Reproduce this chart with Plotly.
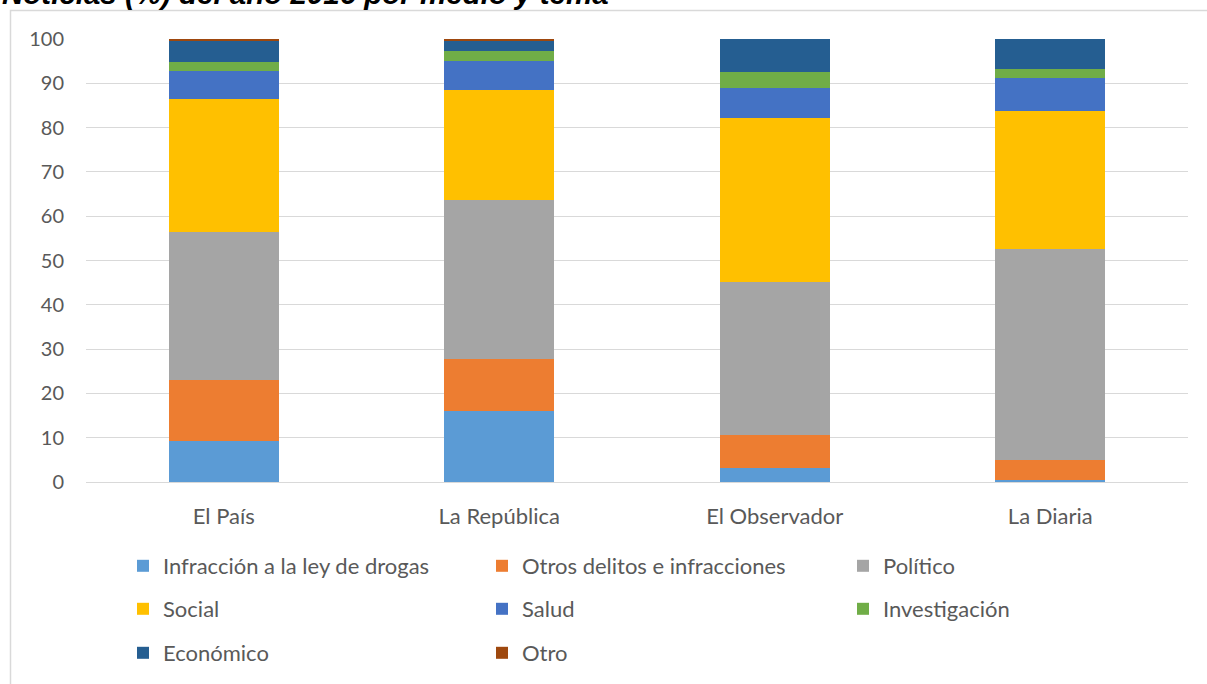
import plotly.graph_objects as go

medios = ["El País", "La República", "El Observador", "La Diaria"]

infraccion = [9.3, 16.0, 3.2, 0.4]
otros_delitos = [13.7, 11.8, 7.3, 4.6]
politico = [33.4, 35.9, 34.6, 47.6]
social = [30.1, 24.9, 37.1, 31.1]
salud = [6.3, 6.4, 6.7, 7.4]
investigacion = [2.1, 2.2, 3.7, 2.1]
economico = [4.8, 2.3, 7.4, 6.8]
otro = [0.3, 0.5, 0.0, 0.0]

series = [
    ("Infracción a la ley de drogas", infraccion, "#5B9BD5", "legend"),
    ("Otros delitos e infracciones", otros_delitos, "#ED7D31", "legend"),
    ("Político", politico, "#A5A5A5", "legend4"),
    ("Social", social, "#FFC000", "legend2"),
    ("Salud", salud, "#4472C4", "legend2"),
    ("Investigación", investigacion, "#70AD47", "legend5"),
    ("Económico", economico, "#255E91", "legend3"),
    ("Otro", otro, "#9E480E", "legend3"),
]

W, H = 1207, 684
ml, mr, mt, mb = 86, 19, 39, 202
pw, ph = W - ml - mr, H - mt - mb

def px_x(x):
    return (x - ml) / pw

def px_y(y):
    return (H - mb - y) / ph

fig = go.Figure()
for name, vals, color, lg in series:
    fig.add_trace(go.Bar(
        x=medios, y=vals, name=name, legend=lg,
        marker=dict(color=color, line=dict(width=0)),
    ))

font = dict(family="Lato", size=22, color="#595959")
yfont = dict(family="Lato", size=20, color="#595959")
leg_common = dict(orientation="h", entrywidth=314, entrywidthmode="pixels",
                  xanchor="left", yanchor="middle", font=font,
                  bgcolor="rgba(0,0,0,0)", itemclick=False, traceorder="normal")

lx1, lx3 = 123, 843
fig.update_layout(
    width=W, height=H,
    margin=dict(l=ml, r=mr, t=mt, b=mb, autoexpand=False),
    barmode="stack", bargap=0.6,
    plot_bgcolor="white", paper_bgcolor="white",
    font=font,
    xaxis=dict(showgrid=False, showline=False, ticks="", tickfont=font,
               ticklabelstandoff=19),
    yaxis=dict(range=[0, 100], dtick=10, showgrid=True, gridcolor="#D9D9D9",
               gridwidth=1, zeroline=True, zerolinecolor="#D9D9D9", zerolinewidth=1,
               showline=False, ticks="", tickfont=yfont, ticklabelstandoff=21),
    legend=dict(x=px_x(lx1), y=px_y(566), **leg_common),
    legend2=dict(x=px_x(lx1), y=px_y(609), **leg_common),
    legend3=dict(x=px_x(lx1), y=px_y(653), **leg_common),
    legend4=dict(x=px_x(lx3), y=px_y(566), **leg_common),
    legend5=dict(x=px_x(lx3), y=px_y(609), **leg_common),
    showlegend=True,
)

# chart frame
fig.add_shape(type="rect", xref="paper", yref="paper",
              x0=px_x(10.5), x1=px_x(W + 20), y0=px_y(H + 20), y1=px_y(10.5),
              line=dict(color="#D9D9D9", width=1.5), fillcolor="rgba(0,0,0,0)", layer="below")

fig.add_annotation(
    text="<b><i>Noticias (%) del año 2016 por medio y tema</i></b>",
    xref="paper", yref="paper", x=px_x(0), y=px_y(-6.7),
    xanchor="left", yanchor="middle", showarrow=False,
    font=dict(family="Liberation Sans", size=29.5, color="black"),
)

fig.write_html("out.html")
